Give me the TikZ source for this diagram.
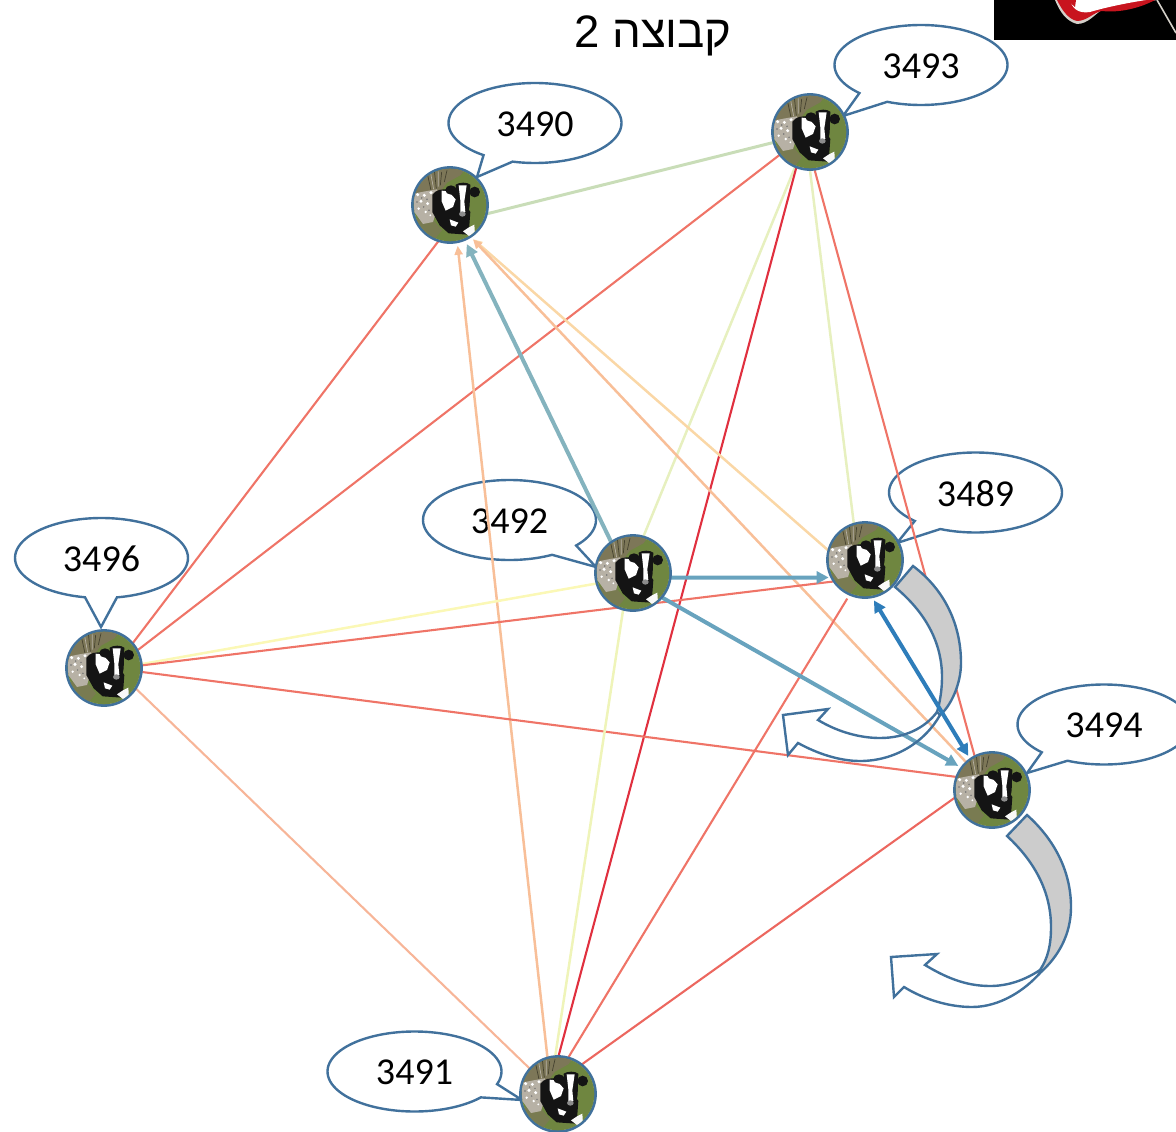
\documentclass[tikz,border=0pt]{standalone}
\usepackage{fontspec}
\setmainfont{Carlito}
\newfontfamily\hebfont[Script=Hebrew]{Liberation Sans}
\TeXXeTstate=1
\usetikzlibrary{arrows.meta}
\pgfdeclarelayer{under}
\pgfsetlayers{under,main}
\definecolor{cowblue}{HTML}{41719C}
\definecolor{grassgreen}{HTML}{6F8640}
\definecolor{drygrass}{HTML}{7D7758}
\definecolor{rockgrey}{HTML}{B7B1A5}
\definecolor{lkgreen}{HTML}{C9DDB8}
\definecolor{lkred}{HTML}{EF7467}
\definecolor{lkdeep}{HTML}{E0303F}
\definecolor{lkpale}{HTML}{E7F0BF}
\definecolor{lkpale2}{HTML}{EFF4B9}
\definecolor{lkyellow}{HTML}{FBF8B6}
\definecolor{lkorange}{HTML}{F8BF98}
\definecolor{lkorange2}{HTML}{FAD7A6}
\definecolor{lkpeach}{HTML}{F7B598}
\definecolor{lkteal}{HTML}{84B3BE}
\definecolor{lkblue}{HTML}{68A3BE}
\definecolor{lkstrong}{HTML}{2E7DBA}
\definecolor{arrowgrey}{HTML}{CCCCCC}
\definecolor{logored}{HTML}{C8141E}
\newcommand{\cowart}[1]{%
\begin{scope}[shift={(#1.center)}]
\clip (0,0) circle (36.3);
\begin{scope}[xshift=-43pt,yshift=43pt,x=.3333pt,y=-.3333pt]
\fill[grassgreen] (0,0) rectangle (258,258);
\fill[drygrass] (0,0) -- (190,0) -- (160,40) -- (120,62) -- (95,95) -- (0,130) -- cycle;
\draw[drygrass!55!black,line width=.7pt] (60,30)--(72,85) (82,25)--(88,80) (104,30)--(100,70) (120,25)--(112,60);
\draw[rockgrey,line width=.7pt] (70,28)--(80,82) (94,28)--(94,74);
\fill[drygrass!70!grassgreen] (0,170) -- (75,170) -- (105,205) -- (80,235) -- (0,258) -- cycle;
\fill[rockgrey] (20,95) -- (55,88) -- (90,82) -- (95,125) -- (78,180) -- (48,186) -- (22,150) -- cycle;
\fill[white] (32,98) circle (5) (52,100) circle (5) (42,118) circle (5) (62,125) circle (5) (35,140) circle (4) (56,150) circle (4) (72,92) circle (5) (70,160) circle (3);
\fill[black!55] (44,108) circle (2.5) (60,112) circle (2.5) (50,135) circle (2.5) (66,145) circle (2.5) (30,120) circle (2.5);
\fill[black!92] (76,98) .. controls (85,85) and (105,78) .. (128,84) -- (152,92) -- (190,150) -- (186,205) -- (183,218) -- (125,214) -- (98,190) -- (76,150) -- cycle;
\fill[white] (104,86) -- (124,88) -- (146,112) -- (138,135) -- (116,146) -- (104,118) -- cycle;
\fill[white] (128,172) -- (154,182) -- (146,194) -- (132,190) -- cycle;
\fill[black!92] (146,68) .. controls (158,60) and (180,60) .. (190,68) -- (188,130) -- (182,165) -- (152,165) -- (150,125) -- cycle;
\fill[black!92] (132,84) ellipse (17 and 14);
\fill[black!92] (203,90) ellipse (16 and 16);
\fill[white] (155,70) -- (179,70) -- (172,118) -- (175,150) -- (160,150) -- (160,115) -- cycle;
\fill[black!45] (166,156) ellipse (10 and 8);
\fill[white!92!rockgrey] (186,196) -- (202,188) -- (204,218) -- (186,222) -- (168,208) -- cycle;
\end{scope}
\end{scope}}
\tikzset{
  cownode/.style={circle,minimum size=75pt,inner sep=0pt,outer sep=1pt,draw=cowblue,line width=2.8pt,fill=white},
  bubbleline/.style={draw=cowblue,line width=2.4pt,fill=white,line join=miter},
  bubbletext/.style={font=\fontsize{38}{38}\selectfont,text=black,inner sep=0pt},
  thinlink/.style={line width=2.1pt},
  midlink/.style={line width=2.5pt},
  greenlink/.style={line width=3pt},
  heavylink/.style={line width=4pt},
  smalltip/.style={-{Triangle[length=9pt,width=8pt]}},
  bigtip/.style={-{Triangle[length=12pt,width=12pt]}},
  curved/.style={draw=cowblue,line width=2.4pt,line join=miter},
}
\newcommand{\speech}[8]{%
\draw[bubbleline] plot[domain=#5:#6,samples=90,smooth] ({#1+#3*cos(\x)},{#2+40*sin(\x)}) -- (#7,#8) -- cycle;
\node[bubbletext] at (#1,#2+1) {#4};}
\begin{document}
\begin{tikzpicture}[x=1pt,y=-1pt]
\useasboundingbox (0,0) rectangle (1176,1132);
% logo corner
\fill[black] (994,0) rectangle (1176,40);
\fill[rockgrey!60!white] (1055,0) .. controls (1060,12) and (1066,21) .. (1077,24) .. controls (1088,24) and (1095,14) .. (1103,9) -- (1157,0) -- cycle;
\fill[logored] (1057,0) .. controls (1062,10) and (1068,19) .. (1077,21) .. controls (1087,21) and (1094,12) .. (1102,11) .. controls (1120,13) and (1140,8) .. (1155,0) -- cycle;
\fill[white] (1070,0) .. controls (1072,8) and (1078,14) .. (1090,12) .. controls (1100,9) and (1120,4) .. (1146,0) -- cycle;
\fill[logored] (1067,0) -- (1076,0) -- (1075,7) -- cycle;
\draw[rockgrey!60!white,line width=1.6pt] (1157,0) -- (1176,33);
% title
\node[anchor=base,inner sep=0pt,text=black] (title) at (653,48) {\fontsize{45.5}{46}\selectfont\hebfont\beginR קבוצה 2\endR};
% animals
\node[cownode] (n3490) at (450,205) {};
\node[cownode] (n3493) at (810,132) {};
\node[cownode] (n3489) at (865,560) {};
\node[cownode] (n3492) at (633,573) {};
\node[cownode] (n3496) at (104,668) {};
\node[cownode] (n3494) at (992,790) {};
\node[cownode] (n3491) at (558,1094) {};
\cowart{n3490}
\cowart{n3493}
\cowart{n3489}
\cowart{n3492}
\cowart{n3496}
\cowart{n3494}
\cowart{n3491}
\begin{pgfonlayer}{under}
% speech bubbles
\speech{535}{123}{86.5}{3490}{105}{-233.5}{477}{177}
\speech{921}{65}{86.5}{3493}{113}{-224.6}{843}{116}
\speech{975.5}{492.5}{86.5}{3489}{114}{-225.4}{897}{543}
\speech{1104}{724.5}{86.5}{3494}{115}{-224}{1027}{773}
\speech{509.5}{520}{86.5}{3492}{39.6}{-299.5}{596}{567}
\speech{414.5}{1071.5}{87}{3491}{18.4}{-319.7}{522}{1100}
\speech{101.5}{558}{86.5}{3496}{79.7}{-259}{101}{627}
% connectors
\draw[greenlink,lkgreen] (n3490.-13) -- (n3493.196.5);
\draw[thinlink,lkred] (n3490.252.5) -- (n3496.41);
\draw[thinlink,lkred] (n3493.217) -- (n3496.28);
\draw[midlink,lkpale] (n3493.247) -- (n3492.74);
\draw[midlink,lkpale] (n3493.270) -- (n3489.107);
\draw[thinlink,lkdeep] (n3493.249) -- (n3491.89);
\draw[thinlink,lkred] (n3493.277) -- (n3494.117);
\draw[midlink,lkorange,smalltip,shorten >=3pt] (n3491.106) -- (n3490.-79);
\draw[midlink,lkorange2,smalltip,shorten >=3pt] (n3489.165) -- (n3490.-57);
\draw[midlink,lkorange,smalltip,shorten >=3pt] (n3494.133) -- (n3490.-57);
\draw[heavylink,lkteal,bigtip,shorten >=4pt] (n3492.125) -- (n3490.-67);
\draw[midlink,lkyellow] (n3492.196) -- (n3496.6);
\draw[thinlink,lkred] (n3489.214) -- (n3496.4);
\draw[thinlink,lkred] (n3494.160) -- (n3496.-6);
\draw[thinlink,lkpeach] (n3496.-33) -- (n3491.138);
\draw[midlink,lkpale2] (n3492.255) -- (n3491.94);
\draw[thinlink,lkred,shorten <=4pt] (n3489.246) -- (n3491.74);
\draw[thinlink,lkred!80!lkdeep] (n3494.192) -- (n3491.51);
\draw[heavylink,lkblue,bigtip,shorten >=2pt] (n3492.-7) -- (n3489.207);
\draw[heavylink,lkblue,bigtip,shorten >=3pt] (n3492.-40) -- (n3494.144);
\end{pgfonlayer}
% curved arrows
\filldraw[curved,fill=arrowgrey] (913,566) .. controls (945,590) and (961,625) .. (961,663) .. controls (961,685) and (950,707) .. (940,715) -- (937,712) .. controls (940,702) and (942,690) .. (942,677) .. controls (942,642) and (925,612) .. (895,587) -- cycle;
\draw[curved] (937,712) .. controls (925,728) and (905,738) .. (880,738) .. controls (860,738) and (838,732) .. (818,720) -- (828,709) -- (783,715) -- (788,755) -- (798,743) .. controls (818,754) and (840,761) .. (860,761) .. controls (895,761) and (925,742) .. (940,715);
\filldraw[curved,fill=arrowgrey] (1027,815) .. controls (1055,840) and (1071,872) .. (1071,907) .. controls (1071,935) and (1058,957) .. (1040,973) -- (1040,970) .. controls (1048,958) and (1051,945) .. (1051,927) .. controls (1051,890) and (1033,860) .. (1007,836) -- cycle;
\draw[curved] (1040,970) .. controls (1025,980) and (1008,986) .. (990,986) .. controls (965,986) and (945,977) .. (925,965) -- (937,954) -- (891,957) -- (894,997) -- (904,987) .. controls (925,1000) and (950,1007) .. (972,1007) .. controls (1000,1007) and (1025,990) .. (1040,973);
\draw[heavylink,lkstrong,{Triangle[length=12pt,width=12pt]}-{Triangle[length=12pt,width=12pt]},shorten >=3pt,shorten <=3pt] (n3489.-79) -- (n3494.125);
\end{tikzpicture}
\end{document}
